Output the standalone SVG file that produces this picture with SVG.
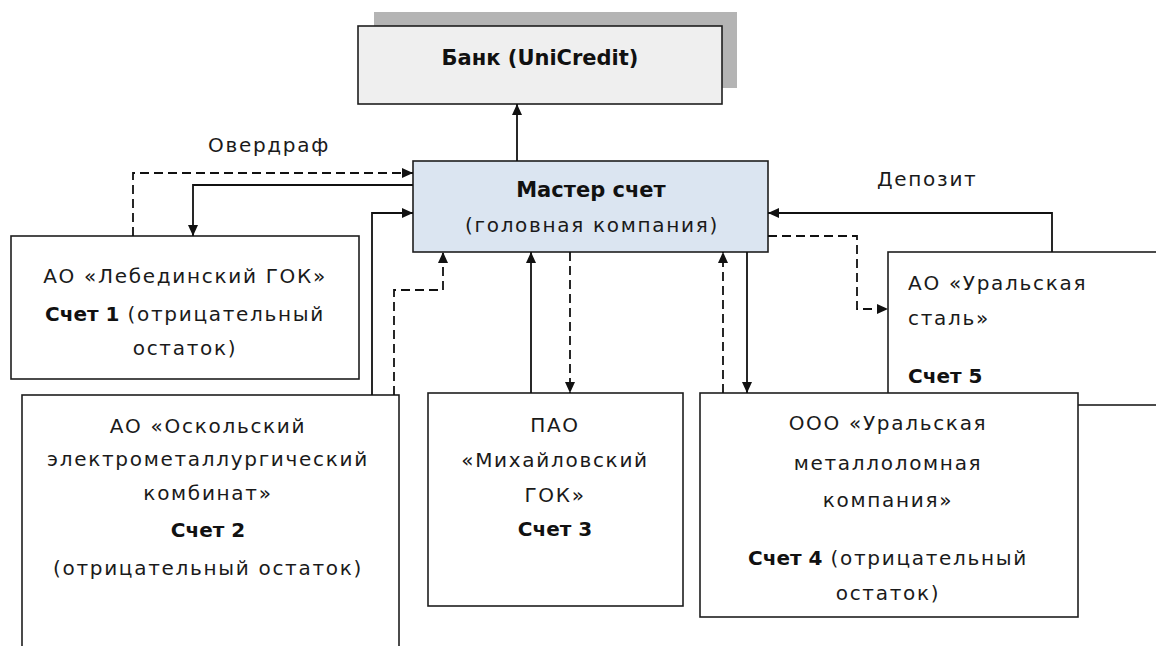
<svg xmlns="http://www.w3.org/2000/svg" width="1156" height="646" viewBox="0 0 1156 646">
<style>
.box{fill:#ffffff;stroke:#1e1e1e;stroke-width:1.6}
.t{font-family:"DejaVu Sans","Liberation Sans",sans-serif;font-size:20px;letter-spacing:1.7px;fill:#1a1a1a}
.b{font-family:"DejaVu Sans","Liberation Sans",sans-serif;font-size:20px;font-weight:bold;letter-spacing:0px;fill:#111}
.c{text-anchor:middle}
.ln{fill:none;stroke:#111;stroke-width:1.8;marker-end:url(#ah)}
.d{stroke-dasharray:9 5}
</style>
<defs>
<marker id="ah" markerUnits="userSpaceOnUse" markerWidth="12" markerHeight="10" refX="11" refY="5" orient="auto">
<path d="M0,0 L11,5 L0,10 z" fill="#111"/>
</marker>
</defs>
<rect width="1156" height="646" fill="#ffffff"/>

<g id="ural-steel">
<rect class="box" x="888" y="252" width="300" height="153"/>
<text class="t" x="908" y="290">АО «Уральская</text>
<text class="t" x="908" y="325">сталь»</text>
<text class="b" x="908" y="383">Счет 5</text>
</g>

<g id="bank">
<rect x="374" y="12" width="363" height="76" fill="#b4b4b4"/>
<rect x="358" y="26" width="364" height="78" fill="#efefef" stroke="#1e1e1e" stroke-width="1.6"/>
<text class="b c" x="540" y="65" style="font-size:21px">Банк (UniCredit)</text>
</g>

<g id="master">
<rect x="413" y="161" width="355" height="91" fill="#dbe5f1" stroke="#1e1e1e" stroke-width="1.6"/>
<text class="b c" x="591" y="197" style="font-size:21px">Мастер счет</text>
<text class="t c" x="592" y="232">(головная компания)</text>
</g>

<g id="lebedinsky">
<rect class="box" x="11" y="236" width="348" height="143"/>
<text class="t c" x="185" y="283">АО «Лебединский ГОК»</text>
<text class="t c" x="185" y="321"><tspan class="b">Счет 1</tspan> (отрицательный</text>
<text class="t c" x="185" y="355">остаток)</text>
</g>

<g id="oskolsky">
<rect class="box" x="22" y="395" width="377" height="300"/>
<text class="t c" x="208" y="433">АО «Оскольский</text>
<text class="t c" x="208" y="466">электрометаллургический</text>
<text class="t c" x="208" y="500">комбинат»</text>
<text class="b c" x="208" y="537">Счет 2</text>
<text class="t c" x="208" y="575">(отрицательный остаток)</text>
</g>

<g id="mikhailovsky">
<rect class="box" x="428" y="393" width="255" height="213"/>
<text class="t c" x="555" y="432">ПАО</text>
<text class="t c" x="555" y="467">«Михайловский</text>
<text class="t c" x="555" y="502">ГОК»</text>
<text class="b c" x="555" y="536">Счет 3</text>
</g>

<g id="ural-scrap">
<rect class="box" x="700" y="393" width="378" height="224"/>
<text class="t c" x="888" y="430">ООО «Уральская</text>
<text class="t c" x="888" y="470">металлоломная</text>
<text class="t c" x="888" y="507">компания»</text>
<text class="t c" x="888" y="565"><tspan class="b">Счет 4</tspan> (отрицательный</text>
<text class="t c" x="888" y="600">остаток)</text>
</g>

<g id="labels">
<text class="t" x="208" y="152">Овердраф</text>
<text class="t" x="877" y="186">Депозит</text>
</g>

<g id="connectors">
<path class="ln" d="M517,161 L517,104"/>
<path class="ln d" d="M133,236 L133,173 L413,173"/>
<path class="ln" d="M413,185 L193,185 L193,236"/>
<path class="ln" d="M372,395 L372,213 L413,213"/>
<path class="ln d" d="M394,395 L394,290 L443,290 L443,252"/>
<path class="ln" d="M531,393 L531,252"/>
<path class="ln d" d="M570,252 L570,393"/>
<path class="ln d" d="M723,393 L723,252"/>
<path class="ln" d="M747,252 L747,393"/>
<path class="ln" d="M1052,252 L1052,213 L768,213"/>
<path class="ln d" d="M768,236 L857,236 L857,309 L888,309"/>
</g>
</svg>
